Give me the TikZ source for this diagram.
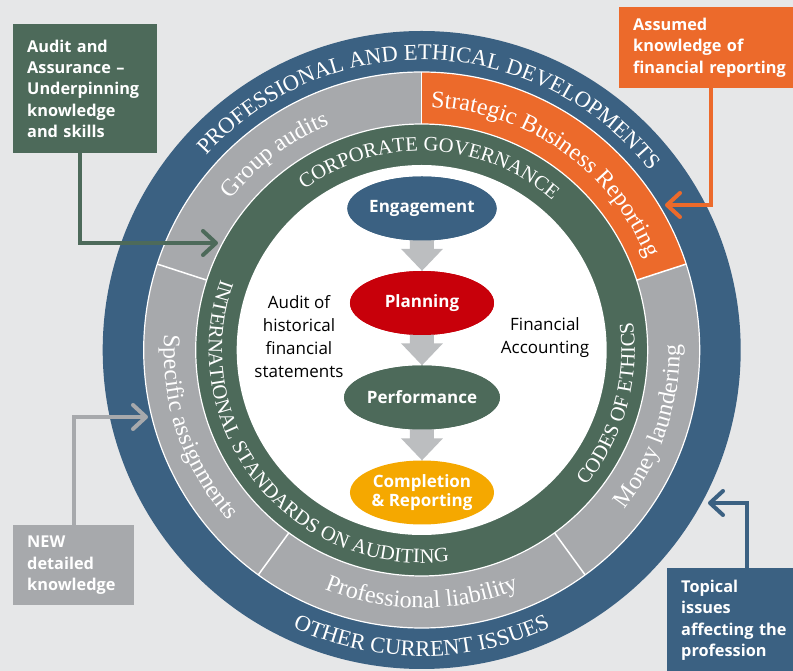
\documentclass[tikz,border=0pt]{standalone}
\usepackage{fontspec}
\setmainfont{Open Sans}
\newfontfamily\arcfont{Liberation Serif}
\usetikzlibrary{arrows.meta,shapes.geometric,decorations.text,calc}
\definecolor{cbg}{HTML}{E6E7E8}
\definecolor{cblue}{HTML}{3B6182}
\definecolor{cgray}{HTML}{A7A9AC}
\definecolor{cgreen}{HTML}{4D6A5A}
\definecolor{corange}{HTML}{EC6A2B}
\definecolor{cred}{HTML}{C8000A}
\definecolor{cyellow}{HTML}{F5A800}
\definecolor{carrow}{HTML}{BCBEC0}
\begin{document}
\begin{tikzpicture}[x=1pt,y=1pt,
  callbox/.style={inner xsep=14pt, inner ysep=12pt, text=white, align=left,
    font=\bfseries\fontsize{16.3}{21.3}\selectfont, anchor=north west},
  ellnode/.style={ellipse, minimum width=144pt, minimum height=64pt, inner sep=0pt,
    text=white, align=center, font=\bfseries\fontsize{17}{19}\selectfont},
  plaintext/.style={align=center, text=black, font=\fontsize{17}{23}\selectfont},
  blockarrow/.style={fill=carrow},
  conn/.style={line width=4pt, line join=miter, -{Straight Barb[length=13pt, width=24pt, round]}},
  bigarc/.style={decorate, decoration={text along path, text align=center,
    text={|\arcfont\fontsize{22.5}{27}\selectfont\color{white}|#1}}},
  midarc/.style={decorate, decoration={text along path, text align=center,
    text={|\arcfont\fontsize{24}{28}\selectfont\color{white}|#1}}},
  smallarc/.style={decorate, decoration={text along path, text align=center,
    text={|\arcfont\fontsize{20.5}{24}\selectfont\color{white}|#1}}}
]
\useasboundingbox (-421.7,-321) rectangle (371.3,350);
\fill[cbg] (-421.7,-321) rectangle (371.3,350);

% rings
\fill[cblue] (0,0) circle (319);
\fill[cgray] (0,0) circle (278);
\fill[corange] (0,0) -- (18:278) arc[start angle=18, end angle=90, radius=278] -- cycle;
\fill[cgreen] (0,0) circle (226);
\fill[white] (0,0) circle (185);
\draw[white, line width=1.2pt] (0,0) circle (278);
\draw[white, line width=1.2pt] (0,0) circle (226);
\foreach \a in {18,90,162,234,306}
  \draw[white, line width=1.5pt] (\a:226) -- (\a:278);

% outer ring texts
\path[bigarc={PROFESSIONAL AND ETHICAL DEVELOPMENTS}] (168:290) arc[start angle=168, end angle=8, radius=290];
\path[bigarc={OTHER CURRENT ISSUES}] (200:306) arc[start angle=200, end angle=340, radius=306];

% gray ring texts
\path[midarc={Group audits}] (187:243) arc[start angle=187, end angle=67, radius=243];
\path[midarc={Strategic Business Reporting}] (125:243) arc[start angle=125, end angle=-15, radius=243];
\path[midarc={Money laundering}] (-88:258) arc[start angle=-88, end angle=51, radius=258];
\path[midarc={Professional liability}] (200:258) arc[start angle=200, end angle=340, radius=258];
\path[midarc={Specific assignments}] (129:258) arc[start angle=129, end angle=269, radius=258];

% green ring texts
\path[smallarc={CORPORATE GOVERNANCE}] (167.5:199) arc[start angle=167.5, end angle=7.5, radius=199];
\path[smallarc={INTERNATIONAL STANDARDS ON AUDITING}] (129:213) arc[start angle=129, end angle=309, radius=213];
\path[smallarc={CODES OF ETHICS}] (-76:213) arc[start angle=-76, end angle=44, radius=213];

% process ellipses
\node[ellnode, fill=cblue] (eng) at (0.3,141.5) {Engagement};
\node[ellnode, fill=cred] (plan) at (0.3,47) {Planning};
\node[ellnode, fill=cgreen] (perf) at (0.3,-47.5) {Performance};
\node[ellnode, fill=cyellow] (comp) at (0.3,-142.5) {Completion\\\& Reporting};

\foreach \u/\v in {eng/plan, plan/perf, perf/comp}{
  \fill[blockarrow] ([xshift=-12pt,yshift=2pt]\u.south) -- ([xshift=12pt,yshift=2pt]\u.south)
    -- ([xshift=12pt,yshift=22pt]\v.north) -- ([xshift=21pt,yshift=22pt]\v.north)
    -- (\v.north) -- ([xshift=-21pt,yshift=22pt]\v.north)
    -- ([xshift=-12pt,yshift=22pt]\v.north) -- cycle;
}
\node[ellnode, fill=cblue] at (eng) {Engagement};
\node[ellnode, fill=cred] at (plan) {Planning};
\node[ellnode, fill=cgreen] at (perf) {Performance};

\node[plaintext] (hist) at (-122.7,13) {Audit of\\historical\\financial\\statements};
\node[plaintext] (facc) at (123.3,12) {Financial\\Accounting};

% callout boxes
\node[callbox, fill=cgreen, text width=116pt, minimum height=129pt] (bgreen) at (-408.7,326)
  {Audit and\\Assurance --\\Underpinning\\knowledge\\and skills};
\node[callbox, fill=corange, text width=176pt, inner ysep=11pt] (borange) at (197.3,343)
  {Assumed\\knowledge of\\financial reporting};
\node[callbox, fill=cgray, text width=93pt, inner ysep=11pt] (bgray) at (-408.7,-175)
  {NEW\\detailed\\knowledge};
\node[callbox, fill=cblue, text width=132pt] (bblue) at (245.3,-218)
  {Topical\\issues\\affecting the\\profession};

\coordinate (tipg) at (-203.7,107);
\coordinate (tipo) at (243.3,145);
\coordinate (tipgr) at (-273.7,-67);
\coordinate (tipb) at (286.3,-153);
\draw[conn, cgreen] ([xshift=-5pt]bgreen.south) |- (tipg);
\draw[conn, corange] ([xshift=92pt]borange.south west) |- (tipo);
\draw[conn, cgray] (bgray.north) |- (tipgr);
\draw[conn, cblue] (bblue.north) |- (tipb);
\end{tikzpicture}
\end{document}
